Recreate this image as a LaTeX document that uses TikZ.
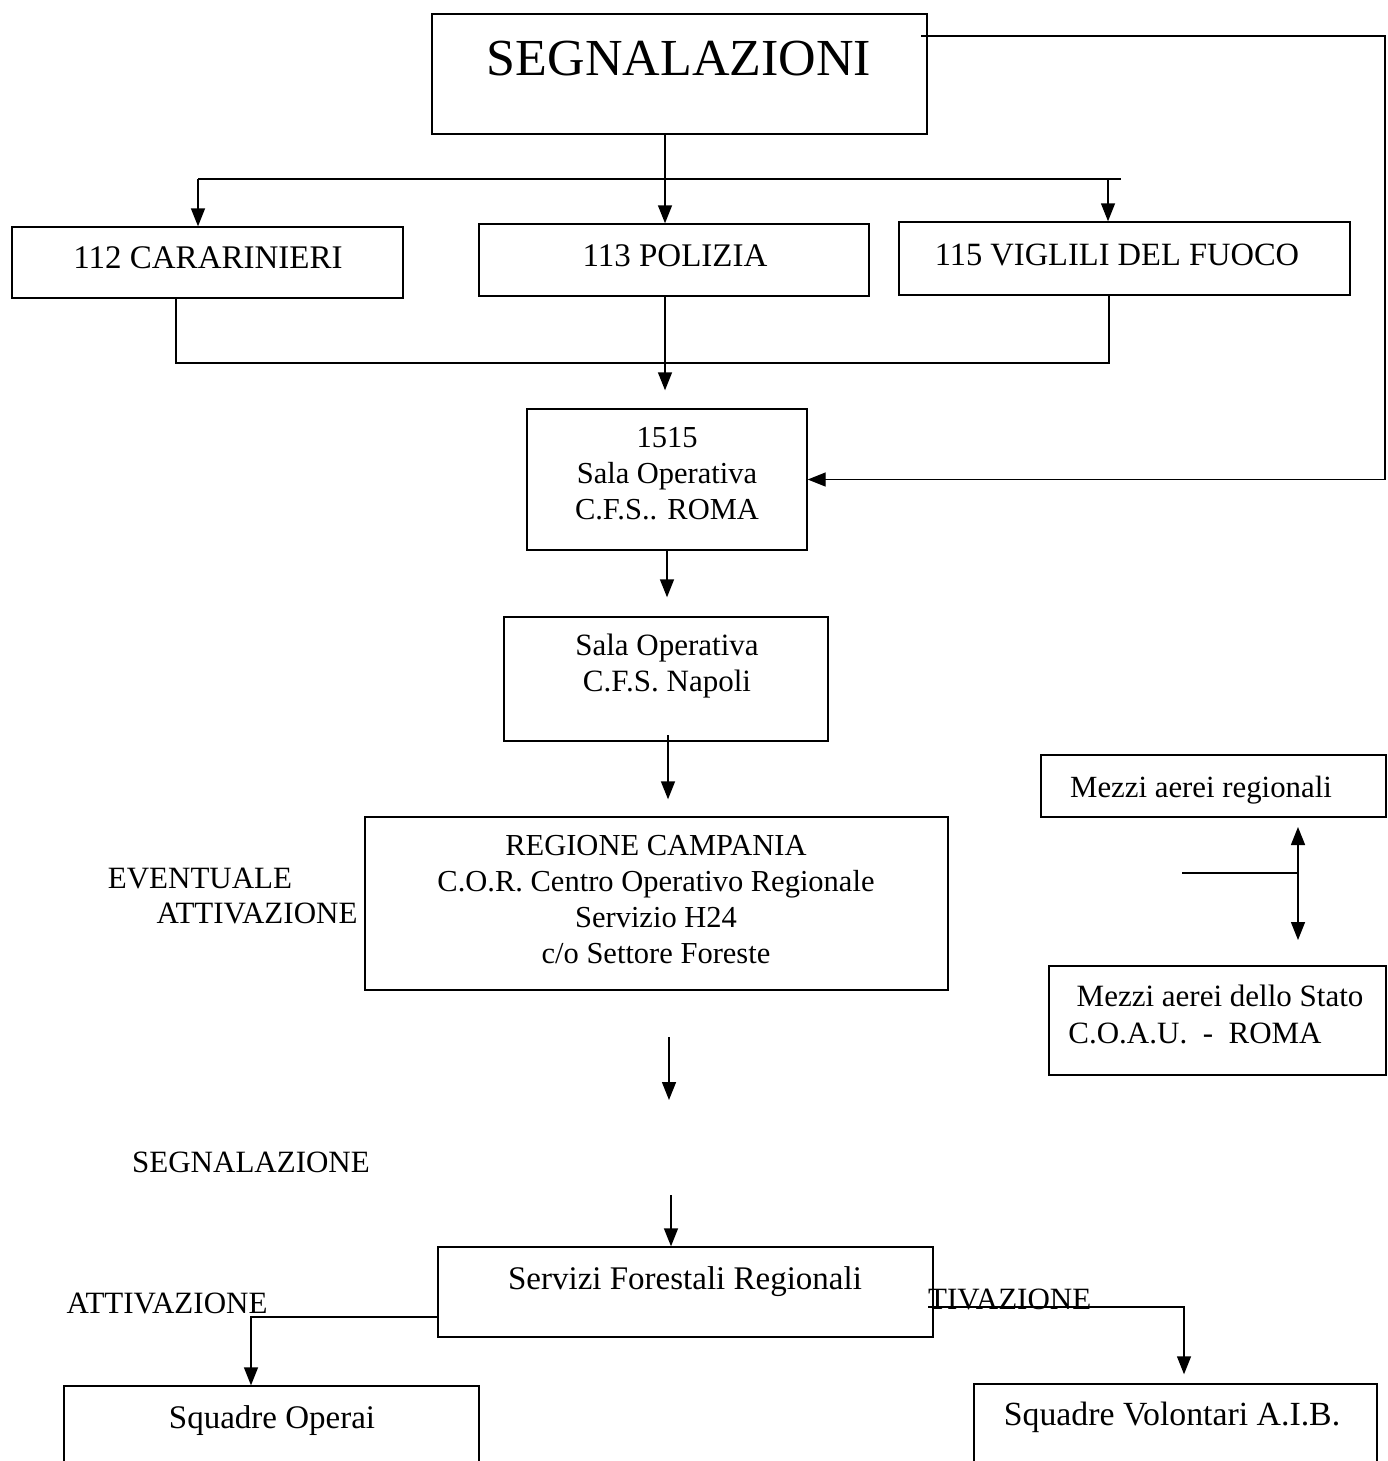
\documentclass[tikz,border=0pt]{standalone}
\usepackage{fontspec}
\setmainfont{Liberation Serif}
\usetikzlibrary{arrows.meta}
\newcommand{\fs}[1]{\fontsize{#1}{36}\selectfont}
\begin{document}
\begin{tikzpicture}[x=1pt,y=-1pt,
  box/.style={draw, line width=1.4pt, inner sep=0pt, fill=none},
  ln/.style={line width=1.4pt},
  arr/.style={ln, -{Triangle[length=18pt,width=14pt]}},
  arrtwo/.style={ln, {Triangle[length=18pt,width=14pt]}-{Triangle[length=18pt,width=14pt]}},
  txt/.style={inner sep=0pt, font=\fs{31}},
  big/.style={inner sep=0pt, font=\fs{33}}]
\useasboundingbox[fill=white] (0,0) rectangle (1387,1461);

% boxes
\node[box, minimum width=495pt, minimum height=120pt] (seg) at (679.5,74) {};
\node[box, minimum width=391pt, minimum height=71pt] (car) at (207.5,262.5) {};
\node[box, minimum width=390pt, minimum height=72pt] (pol) at (674,260) {};
\node[box, minimum width=451pt, minimum height=73pt] (vvf) at (1124.5,258.5) {};
\node[box, minimum width=280pt, minimum height=141pt] (sro) at (667,479.5) {};
\node[box, minimum width=324pt, minimum height=124pt] (sna) at (666,679) {};
\node[box, minimum width=583pt, minimum height=173pt] (reg) at (656.5,903.5) {};
\node[box, minimum width=345pt, minimum height=62pt] (mar) at (1213.5,786) {};
\node[box, minimum width=337pt, minimum height=109pt] (mst) at (1217.5,1020.5) {};
\node[box, minimum width=495pt, minimum height=90pt] (sfr) at (685.5,1292) {};
\node[box, minimum width=415pt, minimum height=89pt] (sop) at (271.5,1430.5) {};
\node[box, minimum width=403pt, minimum height=91pt] (svo) at (1175.5,1429.5) {};

% texts
\node[inner sep=0pt, font=\fs{52}, anchor=base] (tseg) at (679,76) {SEGNALAZIONI};
\node[big, anchor=base] (tcar) at (208,268) {112 CARARINIERI};
\node[big, anchor=base] (tpol) at (675,266) {113 POLIZIA};
\node[inner sep=0pt, font=\fs{32.5}, anchor=base] (tvvf) at (1117,265) {115 VIGLILI DEL FUOCO};
\node[txt, align=center, font=\fs{30.5}] (tsro) at (667,474) {1515\\Sala Operativa\\C.F.S.. ROMA};
\node[txt, align=center] (tsna) at (667,666) {Sala Operativa\\C.F.S. Napoli};
\node[txt, align=center, font=\fs{30.5}] (treg) at (656,900) {REGIONE CAMPANIA\\C.O.R. Centro Operativo Regionale\\Servizio H24\\c/o Settore Foreste};
\node[txt, anchor=base] (tev1) at (200,888) {EVENTUALE};
\node[txt, anchor=base] (tev2) at (257,923) {ATTIVAZIONE};
\node[txt, anchor=base, font=\fs{30.8}] (tmar) at (1201,797) {Mezzi aerei regionali};
\node[txt, anchor=base] (tmst1) at (1220,1006) {Mezzi aerei dello Stato};
\node[txt, anchor=base] (tmst2) at (1195,1043) {C.O.A.U.\ \ -\ \ ROMA};
\node[txt, anchor=base] (tsegn) at (251,1172) {SEGNALAZIONE};
\node[big, anchor=base] (tsfr) at (685,1289) {Servizi Forestali Regionali};
\node[txt, anchor=base] (tatt1) at (167,1313) {ATTIVAZIONE};
\node[txt, anchor=base west] (tatt2) at (928,1309) {TIVAZIONE};
\node[big, anchor=base] (tsop) at (272,1428) {Squadre Operai};
\node[txt, anchor=base, font=\fs{33.8}] (tsvo) at (1172,1425) {Squadre Volontari A.I.B.};

% connectors
\draw[arr] (665,0 |- seg.south) -- (665,0 |- pol.north);
\coordinate (hl) at (198,179);
\coordinate (hr) at (1121,179);
\coordinate (hv) at (1108,179);
\draw[ln] (hl) -- (hr);
\draw[arr] (hl) -- (198,0 |- car.north);
\draw[arr] (hv) -- (1108,0 |- vvf.north);
\coordinate (bl) at (176,363);
\coordinate (br) at (1109,363);
\draw[ln] (176,0 |- car.south) -- (bl) -- (br) -- (1109,0 |- vvf.south);
\draw[arr, shorten >=18pt] (665,0 |- pol.south) -- (665,0 |- sro.north);
\coordinate (r1) at (921,36);
\coordinate (r2) at (1385,36);
\coordinate (r3) at (1385,479.5);
\draw[arr] (r1) -- (r2) -- (r3) -- (sro.east);
\draw[arr, shorten >=19pt] (667,0 |- sro.south) -- (667,0 |- sna.north);
\draw[arr, shorten >=17pt] (668,735) -- (668,0 |- reg.north);
\coordinate (a1) at (669,1037);
\coordinate (a2) at (669,1100);
\draw[arr] (a1) -- (a2);
\coordinate (b1) at (671,1195);
\draw[arr] (b1) -- (671,0 |- sfr.north);
\coordinate (d1) at (1298,827);
\coordinate (d2) at (1298,940);
\draw[arrtwo] (d1) -- (d2);
\coordinate (e1) at (1182,873);
\coordinate (e2) at (1298,873);
\draw[ln] (e1) -- (e2);
\coordinate (s1) at (251,1317);
\draw[arr] (sfr.west |- s1) -- (s1) -- (251,0 |- sop.north);
\coordinate (v1) at (928,1307);
\coordinate (v2) at (1184,1307);
\draw[arr, shorten >=9pt] (v1) -- (v2) -- (1184,0 |- svo.north);
\end{tikzpicture}
\end{document}
